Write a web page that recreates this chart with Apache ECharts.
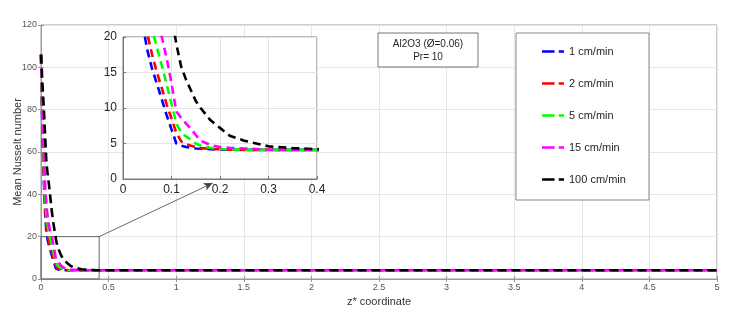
<!DOCTYPE html>
<html><head><meta charset="utf-8">
<script src="https://cdn.jsdelivr.net/npm/echarts@6/dist/echarts.min.js"></script>
<style>html,body{margin:0;padding:0;background:#fff}#c{width:753px;height:323px}</style>
</head><body><div id="c"></div>
<script>
const zValues = [0,0.005,0.01,0.015,0.02,0.03,0.04,0.05,0.06,0.07,0.08,0.09,0.1,0.11,0.12,0.13,0.14,0.15,0.16,0.18,0.2,0.22,0.25,0.3,0.35,0.4,0.5,1,2,3,4,5];
const nu1 = [106,88,72,60,48,32,22,18.2,15.5,13.4,11.2,9,7,5,4.7,4.5,4.4,4.3,4.25,4.2,4.15,4.12,4.1,4.1,4.1,4.1,4.1,4.1,4.1,4.1,4.1,4.1];
const nu2 = [106,90,75,62,51,35,25,20.5,17.5,15,12.8,10.5,8.5,6.5,5.3,4.9,4.7,4.5,4.35,4.25,4.18,4.13,4.1,4.1,4.1,4.1,4.1,4.1,4.1,4.1,4.1,4.1];
const nu5 = [106,92,78,66,55,40,30,25,21,18.5,16,13.3,10.6,7.8,6.5,6,5.5,5,4.7,4.4,4.25,4.18,4.12,4.1,4.1,4.1,4.1,4.1,4.1,4.1,4.1,4.1];
const nu15 = [106,94,82,70,60,45,35,29,25,22,20,17,13.5,9.5,8.6,7.8,7.1,6.2,5.4,4.8,4.5,4.4,4.3,4.12,4.1,4.1,4.1,4.1,4.1,4.1,4.1,4.1];
const nu100 = [106,100,93,87,82,68,55,49,44,38,32,27,23,19,15.8,14,12.5,11,10,8.3,7.2,6.1,5.4,4.6,4.35,4.2,4.12,4.1,4.1,4.1,4.1,4.1];
const seriesNames = ['1 cm/min','2 cm/min','5 cm/min','15 cm/min','100 cm/min'];
const seriesColors = ['#0000ff','#ff0000','#00ff00','#ff00ff','#000000'];
const seriesValues = [nu1,nu2,nu5,nu15,nu100];
const mainXTicks = {min:0,max:5,interval:0.5};
const mainYTicks = {min:0,max:120,interval:20};
const insetXTicks = {min:0,max:0.4,interval:0.1};
const insetYTicks = {min:0,max:20,interval:5};
const zoomBox = [[0,0],[0.43,20]];
const arrowLine = [[0.43,20],[1.27,45.3]];
const noteLines = ['Al2O3 (\u00D8=0.06)','Pr= 10'];
const yTitle = 'Mean Nusselt number';
const xTitle = 'z* coordinate';

const FONT = '"Liberation Sans", Arial, sans-serif';
const chart = echarts.init(document.getElementById('c'));

function pairs(vals){ return zValues.map((z,i)=>[z,vals[i]]); }

const series = [];
seriesValues.forEach((vals,i)=>{
  const s = {
    name: seriesNames[i], type:'line', xAxisIndex:0, yAxisIndex:0,
    data: pairs(vals), symbol:'none', smooth:false, z:2,
    color: seriesColors[i],
    lineStyle:{color:seriesColors[i], width:2.6, type:[9,5]},
    animation:false
  };
  if(i===0){
    s.markArea = {silent:true, itemStyle:{color:'rgba(0,0,0,0)', borderColor:'#666', borderWidth:1},
      data:[[{coord:zoomBox[0]},{coord:zoomBox[1]}]]};
    s.markLine = {silent:true, symbol:['none','arrow'], symbolSize:[6,9], animation:false,
      lineStyle:{color:'#444', width:0.8, type:'solid'}, label:{show:false},
      data:[[{coord:arrowLine[0]},{coord:arrowLine[1]}]]};
  }
  series.push(s);
});
seriesValues.forEach((vals,i)=>{
  series.push({
    name: seriesNames[i], type:'line', xAxisIndex:2, yAxisIndex:2,
    data: pairs(vals), symbol:'none', z:8, clip:true,
    color: seriesColors[i],
    lineStyle:{color:seriesColors[i], width:2.6, type:[8,5]},
    animation:false
  });
});

const mainLabel = {fontFamily:FONT, fontSize:9, color:'#555'};
const insetLabel = {fontFamily:FONT, fontSize:12, color:'#262626'};
const gridBase = {containLabel:false, outerBoundsMode:'none'};

chart.setOption({
  backgroundColor:'#fff',
  animation:false,
  grid:[
    {...gridBase, left:41, right:36, top:25, bottom:44, show:true, borderColor:'#999', borderWidth:1, backgroundColor:'#fff', z:0},
    {...gridBase, left:41, right:36, top:25, bottom:44, show:false, z:0},
    {...gridBase, left:123, width:194, top:37, height:142, show:true, borderColor:'#777', borderWidth:1, backgroundColor:'#fff', z:5}
  ],
  xAxis:[
    {type:'value', gridIndex:0, min:mainXTicks.min, max:mainXTicks.max, interval:mainXTicks.interval,
     name:xTitle, nameLocation:'middle', nameGap:15,
     nameTextStyle:{fontFamily:FONT, fontSize:11, color:'#333', verticalAlign:'top'},
     axisLine:{onZero:false, lineStyle:{color:'#999'}}, axisTick:{inside:true, length:3, lineStyle:{color:'#999'}},
     axisLabel:{...mainLabel, margin:4}, splitLine:{show:true, lineStyle:{color:'#e6e6e6', width:1}}},
    {type:'value', gridIndex:1, position:'top', min:mainXTicks.min, max:mainXTicks.max, interval:mainXTicks.interval,
     axisLine:{show:false}, axisTick:{inside:true, length:3, lineStyle:{color:'#999'}}, axisLabel:{show:false}, splitLine:{show:false}},
    {type:'value', gridIndex:2, min:insetXTicks.min, max:insetXTicks.max, interval:insetXTicks.interval, z:6,
     axisLine:{onZero:false, lineStyle:{color:'#777'}}, axisTick:{inside:true, length:3, lineStyle:{color:'#777'}},
     axisLabel:{...insetLabel, margin:5}, splitLine:{show:true, lineStyle:{color:'#e3e3e3'}}}
  ],
  yAxis:[
    {type:'value', gridIndex:0, min:mainYTicks.min, max:mainYTicks.max, interval:mainYTicks.interval,
     axisLine:{onZero:false, lineStyle:{color:'#999'}}, axisTick:{inside:true, length:3, lineStyle:{color:'#999'}},
     axisLabel:{...mainLabel, margin:4}, splitLine:{show:true, lineStyle:{color:'#e6e6e6', width:1}}},
    {type:'value', gridIndex:1, position:'right', min:mainYTicks.min, max:mainYTicks.max, interval:mainYTicks.interval,
     axisLine:{show:false}, axisTick:{inside:true, length:3, lineStyle:{color:'#999'}}, axisLabel:{show:false}, splitLine:{show:false}},
    {type:'value', gridIndex:2, min:insetYTicks.min, max:insetYTicks.max, interval:insetYTicks.interval, z:6,
     axisLine:{onZero:false, lineStyle:{color:'#777'}}, axisTick:{inside:true, length:3, lineStyle:{color:'#777'}},
     axisLabel:{...insetLabel, margin:6}, splitLine:{show:true, lineStyle:{color:'#e3e3e3'}}}
  ],
  legend:{
    data:seriesNames, orient:'vertical', left:542, top:46, itemGap:21,
    itemWidth:22, itemHeight:12, padding:0, z:20,
    icon:'path://M0 0h12v2.6H0zM16 0h5v2.6h-5z',
    textStyle:{fontFamily:FONT, fontSize:11, color:'#262626'}
  },
  graphic:[
    {type:'text', x:18, y:152, rotation:Math.PI/2, style:{text:yTitle, fontFamily:FONT, fontSize:11, fill:'#333', align:'center', verticalAlign:'middle'}, z:16},
    {type:'rect', shape:{x:516, y:33, width:133, height:167}, style:{fill:'#fff', stroke:'#888', lineWidth:1}, z:15},
    {type:'rect', shape:{x:378, y:33, width:100, height:34}, style:{fill:'#fff', stroke:'#777', lineWidth:1}, z:15},
    {type:'text', x:428, y:44, style:{text:noteLines[0], fontFamily:FONT, fontSize:10, fill:'#262626', align:'center', verticalAlign:'middle'}, z:16},
    {type:'text', x:428, y:57, style:{text:noteLines[1], fontFamily:FONT, fontSize:10, fill:'#262626', align:'center', verticalAlign:'middle'}, z:16}
  ],
  series: series
});
</script></body></html>
